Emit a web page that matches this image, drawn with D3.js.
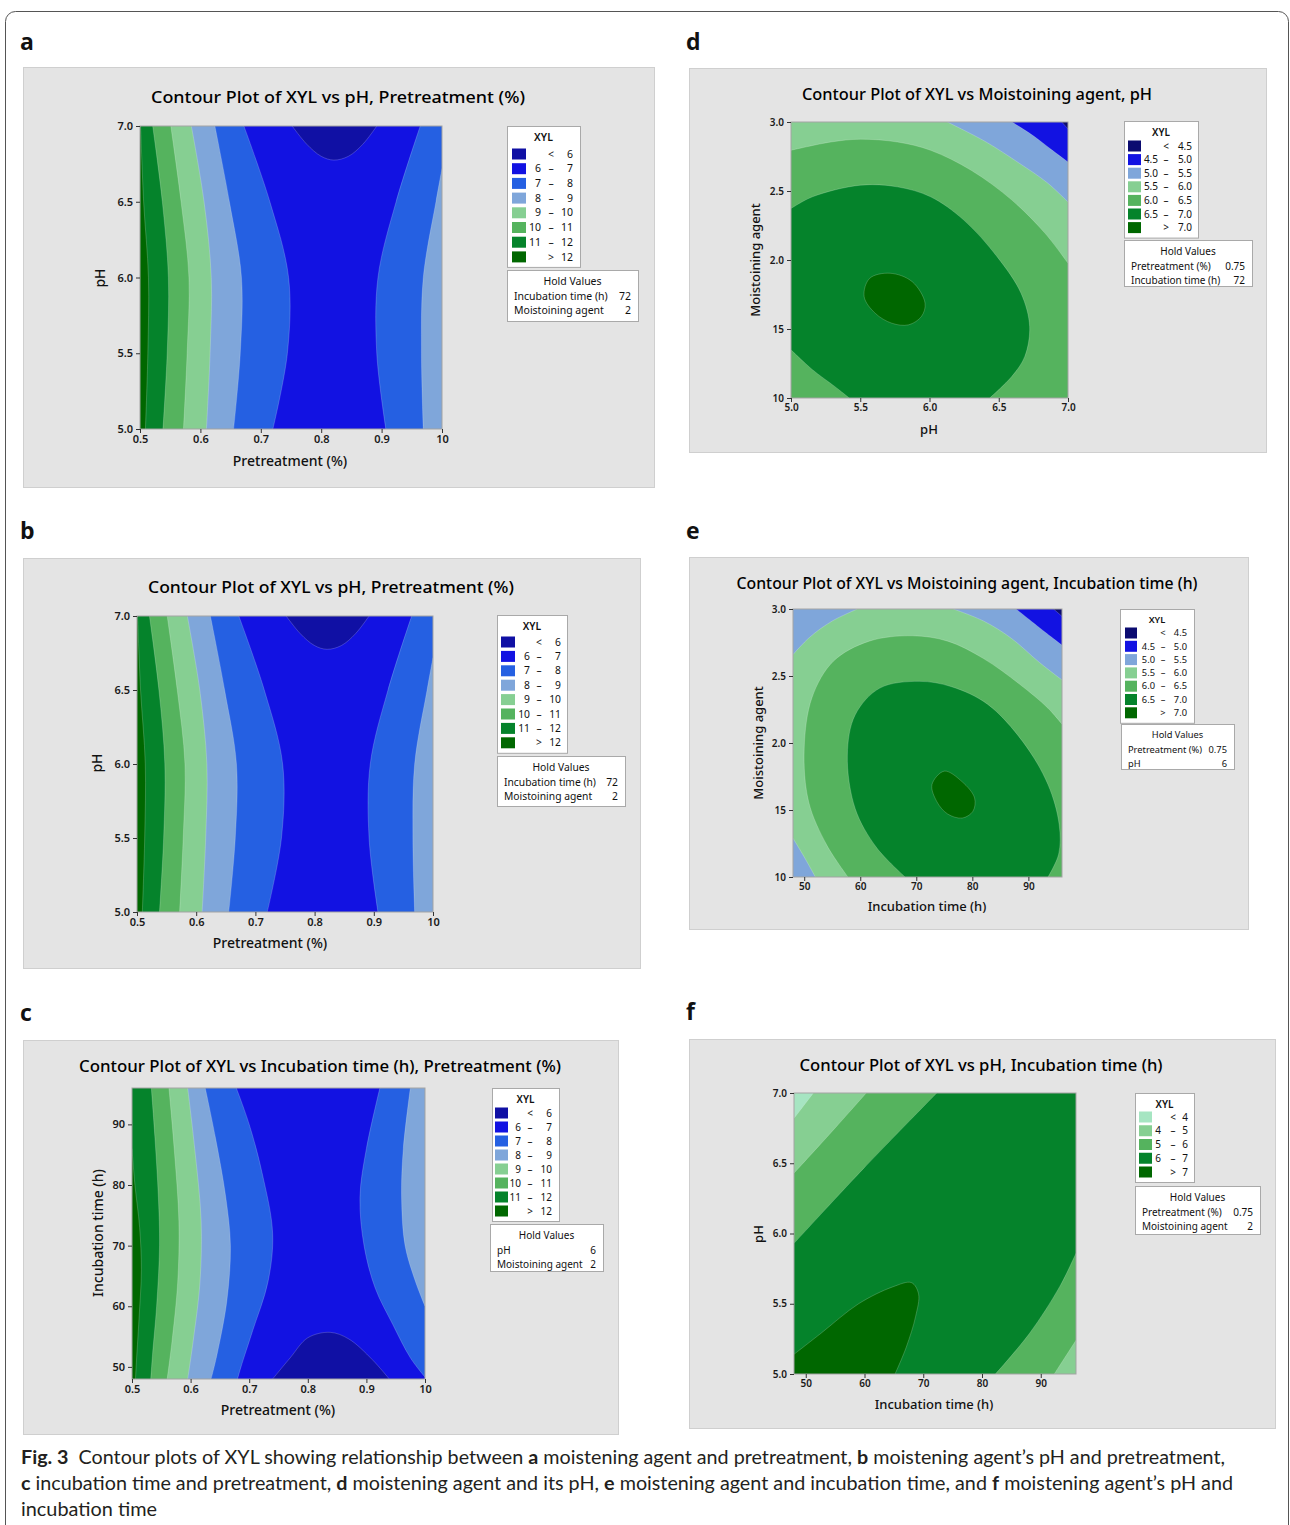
<!DOCTYPE html>
<html lang="en">
  <head>
    <meta charset="UTF-8" />
    <title>Contour plots of XYL</title>
    <script src="https://d3js.org/d3.v7.min.js"></script>
    <style>
      body {
        margin: 0;
        background: #ffffff;
      }
      svg {
        display: block;
        font-family: "Noto Sans", sans-serif;
      }
      .tick text {
        font-family: "Noto Sans", sans-serif;
        font-weight: 600;
        fill: #1a1a1a;
      }
      .tick line {
        stroke: #333;
      }
    </style>
  </head>
  <body>
    <div id="chart"></div>

    <script>
      // -----------------------------
      // 1. Data
      // -----------------------------

      // tick values and their printed labels
      const pretreatTicks = [0.5, 0.6, 0.7, 0.8, 0.9, 1.0];
      const pretreatLabels = ["0.5", "0.6", "0.7", "0.8", "0.9", "10"];
      const phTicks = [5.0, 5.5, 6.0, 6.5, 7.0];
      const phLabels = ["5.0", "5.5", "6.0", "6.5", "7.0"];
      const timeTicks = [50, 60, 70, 80, 90];
      const timeLabels = ["50", "60", "70", "80", "90"];
      const moistTicks = [1.0, 1.5, 2.0, 2.5, 3.0];
      const moistLabels = ["10", "15", "2.0", "2.5", "3.0"];

      // contour breaks (legend) and band colours, low -> high
      const preBreaks = ["6", "7", "8", "9", "10", "11", "12"];
      const preColors = ["#1010a4", "#1212e2", "#2560e2", "#7fa6da", "#86cf92", "#55b35e", "#05832b", "#006700"];
      const moistBreaks = ["4.5", "5.0", "5.5", "6.0", "6.5", "7.0"];
      const moistColors = ["#0b0b70", "#1212e2", "#7fa6da", "#86cf92", "#55b35e", "#05832b", "#006700"];
      const phTimeBreaks = ["4", "5", "6", "7"];
      const phTimeColors = ["#a6e5c2", "#86cf92", "#55b35e", "#05832b", "#006700"];

      // hold values
      const holdAB = [["Incubation time (h)", "72"], ["Moistoining agent", "2"]];
      const holdC = [["pH", "6"], ["Moistoining agent", "2"]];
      const holdD = [["Pretreatment (%)", "0.75"], ["Incubation time (h)", "72"]];
      const holdE = [["Pretreatment (%)", "0.75"], ["pH", "6"]];
      const holdF = [["Pretreatment (%)", "0.75"], ["Moistoining agent", "2"]];

      // contour lines, [x, y] in data units
      // a, b: Pretreatment (x) vs pH (y)
      const prePh12 = [[0.501, 7.0], [0.506, 6.5], [0.514, 6.0], [0.513, 5.5], [0.509, 5.0]];
      const prePh11 = [[0.521, 7.0], [0.537, 6.5], [0.547, 6.0], [0.545, 5.5], [0.538, 5.0]];
      const prePh10 = [[0.551, 7.0], [0.568, 6.5], [0.581, 6.0], [0.578, 5.5], [0.572, 5.0]];
      const prePh9 = [[0.585, 7.0], [0.606, 6.5], [0.618, 6.0], [0.616, 5.5], [0.61, 5.0]];
      const prePh8 = [[0.624, 7.0], [0.648, 6.5], [0.668, 6.0], [0.666, 5.5], [0.655, 5.0]];
      const prePh7 = [[0.672, 7.0], [0.715, 6.5], [0.746, 6.0], [0.744, 5.5], [0.72, 5.0]];
      const prePh6 = [[0.752, 7.0], [0.776, 6.88], [0.8, 6.8], [0.821, 6.775], [0.845, 6.8], [0.869, 6.88], [0.892, 7.0]];
      const prePh7r = [[0.964, 7.0], [0.924, 6.5], [0.894, 6.0], [0.892, 5.5], [0.907, 5.0]];
      const prePh8r = [[1.0, 6.72], [0.99, 6.5], [0.969, 6.0], [0.966, 5.5], [0.969, 5.0]];

      // c: Pretreatment (x) vs Incubation time (y)
      const preTime12 = [[0.5, 86], [0.505, 80], [0.513, 73], [0.516, 66], [0.512, 58], [0.507, 50], [0.506, 48]];
      const preTime11 = [[0.533, 96], [0.539, 88], [0.545, 78], [0.547, 70], [0.542, 60], [0.535, 52], [0.532, 48]];
      const preTime10 = [[0.563, 96], [0.572, 86], [0.58, 74], [0.578, 64], [0.568, 54], [0.56, 48]];
      const preTime9 = [[0.595, 96], [0.607, 86], [0.618, 74], [0.616, 64], [0.604, 54], [0.595, 48]];
      const preTime8 = [[0.625, 96], [0.642, 88], [0.66, 78], [0.668, 70], [0.662, 61], [0.645, 52], [0.635, 48]];
      const preTime7 = [[0.678, 96], [0.7, 90], [0.722, 82], [0.74, 72], [0.732, 64], [0.706, 56], [0.686, 50], [0.68, 48]];
      const preTime6 = [[0.74, 48], [0.77, 51.5], [0.8, 54.8], [0.838, 55.7], [0.87, 54.6], [0.91, 51.2], [0.939, 48]];
      const preTime7r = [[0.923, 96], [0.9, 86], [0.889, 78], [0.896, 70], [0.915, 63], [0.945, 57], [0.975, 51.5], [1.0, 48.3]];
      const preTime8r = [[0.975, 96], [0.963, 86], [0.96, 78], [0.966, 70], [0.984, 64], [1.0, 60]];

      // d: pH (x) vs Moistoining agent (y)
      const phMoist60 = [[5.0, 2.795], [5.288, 2.855], [5.501, 2.875], [5.768, 2.855], [6.008, 2.795], [6.301, 2.65], [6.595, 2.434], [6.835, 2.193], [7.0, 1.976]];
      const phMoist65 = [[5.0, 2.373], [5.155, 2.458], [5.501, 2.542], [5.768, 2.53], [6.008, 2.458], [6.248, 2.289], [6.488, 2.024], [6.661, 1.759], [6.723, 1.518], [6.688, 1.301], [6.595, 1.157], [6.435, 1.0]];
      const phMoist65b = [[5.0, 1.349], [5.155, 1.205], [5.315, 1.084], [5.421, 1.0]];
      const phMoist70 = [[5.568, 1.867], [5.715, 1.904], [5.875, 1.843], [5.968, 1.687], [5.941, 1.59], [5.848, 1.53], [5.728, 1.542], [5.608, 1.614], [5.528, 1.735]];
      const phMoist55 = [[6.128, 3.0], [6.4, 2.86], [6.65, 2.7], [6.85, 2.56], [7.0, 2.42]];
      const phMoist50 = [[6.595, 3.0], [6.75, 2.9], [6.88, 2.8], [7.0, 2.71]];
      const phMoist45 = [[6.955, 3.0], [7.0, 2.95]];

      // e: Incubation time (x) vs Moistoining agent (y)
      const timeMoist55a = [[48, 2.66], [51, 2.79], [55, 2.91], [59.5, 3.0]];
      const timeMoist55b = [[48, 1.29], [50, 1.15], [52, 1.0]];
      const timeMoist55c = [[76.6, 3.0], [82, 2.91], [87, 2.78], [92, 2.6], [96, 2.47]];
      const timeMoist50 = [[87.8, 3.0], [92.9, 2.83], [96, 2.73]];
      const timeMoist45 = [[94.5, 3.0], [96, 2.945]];
      const timeMoist60 = [[57.8, 1.0], [54, 1.24], [50.8, 1.56], [50, 1.96], [51.4, 2.34], [55.2, 2.61], [61.6, 2.76], [69.3, 2.8], [75.6, 2.76], [82, 2.63], [88.4, 2.44], [93.5, 2.26], [96, 2.14]];
      const timeMoist65 = [[68, 1.0], [62.9, 1.22], [59.1, 1.51], [57.7, 1.91], [59.1, 2.21], [63.5, 2.41], [70.5, 2.46], [76.3, 2.42], [82.7, 2.29], [89, 2.01], [93.5, 1.69], [95.5, 1.39], [95.4, 1.17], [93.5, 1.0]];
      const timeMoist70 = [[72.8, 1.69], [75, 1.79], [78.2, 1.71], [80.4, 1.59], [80.1, 1.49], [78.2, 1.44], [75.6, 1.47], [73.7, 1.56]];

      // f: Incubation time (x) vs pH (y)
      const timePh7 = [[48, 5.14], [52.6, 5.29], [59, 5.5], [64.8, 5.62], [68, 5.65], [69.2, 5.57], [68.7, 5.41], [67.1, 5.19], [65.2, 5.0]];
      const timePh6a = [[48, 5.93], [60, 6.47], [72.3, 7.0]];
      const timePh5a = [[48, 6.43], [53.9, 6.7], [60.3, 7.0]];
      const timePh4 = [[48, 6.82], [51.3, 7.0]];
      const timePh6b = [[82.3, 5.0], [88.1, 5.29], [93.2, 5.62], [96, 5.86]];
      const timePh5b = [[92.3, 5.0], [96, 5.24]];

      // filled regions: contour line + plot corners that close it, band index
      const prePhRegions = [
        { line: prePh7, band: 2, corners: [[0.5, 5.0], [0.5, 7.0]] },
        { line: prePh8, band: 3, corners: [[0.5, 5.0], [0.5, 7.0]] },
        { line: prePh9, band: 4, corners: [[0.5, 5.0], [0.5, 7.0]] },
        { line: prePh10, band: 5, corners: [[0.5, 5.0], [0.5, 7.0]] },
        { line: prePh11, band: 6, corners: [[0.5, 5.0], [0.5, 7.0]] },
        { line: prePh12, band: 7, corners: [[0.5, 5.0], [0.5, 7.0]] },
        { line: prePh7r, band: 2, corners: [[1.0, 5.0], [1.0, 7.0]] },
        { line: prePh8r, band: 3, corners: [[1.0, 5.0]] },
        { line: prePh6, band: 0, corners: [] },
      ];
      const preTimeRegions = [
        { line: preTime7, band: 2, corners: [[0.5, 48], [0.5, 96]] },
        { line: preTime8, band: 3, corners: [[0.5, 48], [0.5, 96]] },
        { line: preTime9, band: 4, corners: [[0.5, 48], [0.5, 96]] },
        { line: preTime10, band: 5, corners: [[0.5, 48], [0.5, 96]] },
        { line: preTime11, band: 6, corners: [[0.5, 48], [0.5, 96]] },
        { line: preTime12, band: 7, corners: [[0.5, 48]] },
        { line: preTime7r, band: 2, corners: [[1.0, 96]] },
        { line: preTime8r, band: 3, corners: [[1.0, 96]] },
        { line: preTime6, band: 0, corners: [] },
      ];
      const phMoistRegions = [
        { line: phMoist60, band: 4, corners: [[7.0, 1.0], [5.0, 1.0]] },
        { line: phMoist65, band: 5, corners: [[5.0, 1.0]] },
        { line: phMoist65b, band: 4, corners: [[5.0, 1.0]] },
        { line: phMoist70, band: 6, loop: true },
        { line: phMoist55, band: 2, corners: [[7.0, 3.0]] },
        { line: phMoist50, band: 1, corners: [[7.0, 3.0]] },
        { line: phMoist45, band: 0, corners: [[7.0, 3.0]] },
      ];
      const timeMoistRegions = [
        { line: timeMoist60, band: 4, corners: [[96, 1.0]] },
        { line: timeMoist65, band: 5, corners: [] },
        { line: timeMoist70, band: 6, loop: true },
        { line: timeMoist55a, band: 2, corners: [[48, 3.0]] },
        { line: timeMoist55b, band: 2, corners: [[48, 1.0]] },
        { line: timeMoist55c, band: 2, corners: [[96, 3.0]] },
        { line: timeMoist50, band: 1, corners: [[96, 3.0]] },
        { line: timeMoist45, band: 0, corners: [[96, 3.0]] },
      ];
      const timePhRegions = [
        { line: timePh7, band: 4, corners: [[48, 5.0]] },
        { line: timePh6a, band: 2, corners: [[48, 7.0]] },
        { line: timePh5a, band: 1, corners: [[48, 7.0]] },
        { line: timePh4, band: 0, corners: [[48, 7.0]] },
        { line: timePh6b, band: 2, corners: [[96, 5.0]] },
        { line: timePh5b, band: 1, corners: [[96, 5.0]] },
      ];

      // -----------------------------
      // 2. Panel layout
      // -----------------------------
      const panels = [
        {
          id: "a", tag: [20, 50], box: [23, 67, 654, 487],
          title: "Contour Plot of XYL vs pH, Pretreatment (%)", titleXY: [338, 103], titleW: 374,
          plot: [140, 126, 442, 429], xDom: [0.5, 1.0], yDom: [5.0, 7.0],
          xTicks: pretreatTicks, xLabels: pretreatLabels, yTicks: phTicks, yLabels: phLabels,
          xTitle: "Pretreatment (%)", xTitleXY: [290, 466], yTitle: "pH", yTitleXY: [100, 278], axisFont: 14, tickFont: 11,
          breaks: preBreaks, colors: preColors, base: 1, regions: prePhRegions,
          legend: [507, 126, 73, 28, 14.7], cols: [5, 34, 44, 66, 14], font: 10.5,
          hold: [507, 270, 131, 51], holdRows: holdAB,
        },
        {
          id: "b", tag: [20, 539], box: [23, 558, 640, 968],
          title: "Contour Plot of XYL vs pH, Pretreatment (%)", titleXY: [331, 593], titleW: 366,
          plot: [137, 616, 433, 912], xDom: [0.5, 1.0], yDom: [5.0, 7.0],
          xTicks: pretreatTicks, xLabels: pretreatLabels, yTicks: phTicks, yLabels: phLabels,
          xTitle: "Pretreatment (%)", xTitleXY: [270, 948], yTitle: "pH", yTitleXY: [97, 763], axisFont: 14, tickFont: 11,
          breaks: preBreaks, colors: preColors, base: 1, regions: prePhRegions,
          legend: [497, 615, 70, 27, 14.4], cols: [4, 33, 42, 64, 14], font: 10.3,
          hold: [497, 756, 128, 50], holdRows: holdAB,
        },
        {
          id: "c", tag: [20, 1021], box: [23, 1040, 618, 1434],
          title: "Contour Plot of XYL vs Incubation time (h), Pretreatment (%)", titleXY: [320, 1072], titleW: 482,
          plot: [132, 1088, 425, 1379], xDom: [0.5, 1.0], yDom: [48, 96],
          xTicks: pretreatTicks, xLabels: pretreatLabels, yTicks: timeTicks, yLabels: timeLabels,
          xTitle: "Pretreatment (%)", xTitleXY: [278, 1415], yTitle: "Incubation time (h)", yTitleXY: [98, 1233], axisFont: 14, tickFont: 11,
          breaks: preBreaks, colors: preColors, base: 1, regions: preTimeRegions,
          legend: [492, 1088, 67, 25, 14], cols: [3, 29, 38, 60, 13], font: 10,
          hold: [490, 1224, 113, 47], holdRows: holdC,
        },
        {
          id: "d", tag: [686, 50], box: [689, 68, 1266, 452],
          title: "Contour Plot of XYL vs Moistoining agent, pH", titleXY: [977, 100], titleW: 350,
          plot: [791, 122, 1068, 398], xDom: [5.0, 7.0], yDom: [1.0, 3.0],
          xTicks: phTicks, xLabels: phLabels, yTicks: moistTicks, yLabels: moistLabels,
          xTitle: "pH", xTitleXY: [929, 434], yTitle: "Moistoining agent", yTitleXY: [755, 260], axisFont: 13, tickFont: 10,
          breaks: moistBreaks, colors: moistColors, base: 3, regions: phMoistRegions,
          legend: [1124, 121, 74, 25, 13.6], cols: [4, 34, 42, 68, 13], font: 10,
          hold: [1124, 240, 128, 46], holdRows: holdD,
        },
        {
          id: "e", tag: [686, 539], box: [689, 557, 1248, 929],
          title: "Contour Plot of XYL vs Moistoining agent, Incubation time (h)", titleXY: [967, 589], titleW: 461,
          plot: [793, 609, 1062, 877], xDom: [48, 96], yDom: [1.0, 3.0],
          xTicks: timeTicks, xLabels: timeLabels, yTicks: moistTicks, yLabels: moistLabels,
          xTitle: "Incubation time (h)", xTitleXY: [927, 911], yTitle: "Moistoining agent", yTitleXY: [758, 743], axisFont: 13, tickFont: 10,
          breaks: moistBreaks, colors: moistColors, base: 3, regions: timeMoistRegions,
          legend: [1120, 609, 74, 24, 13.3], cols: [5, 35, 43, 67, 12], font: 9.3,
          hold: [1121, 724, 113, 45], holdRows: holdE,
        },
        {
          id: "f", tag: [686, 1020], box: [689, 1039, 1275, 1428],
          title: "Contour Plot of XYL vs pH, Incubation time (h)", titleXY: [981, 1071], titleW: 363,
          plot: [794, 1093, 1076, 1374], xDom: [48, 96], yDom: [5.0, 7.0],
          xTicks: timeTicks, xLabels: timeLabels, yTicks: phTicks, yLabels: phLabels,
          xTitle: "Incubation time (h)", xTitleXY: [934, 1409], yTitle: "pH", yTitleXY: [758, 1234], axisFont: 13, tickFont: 10,
          breaks: phTimeBreaks, colors: phTimeColors, base: 3, regions: timePhRegions,
          legend: [1135, 1093, 59, 24, 13.75], cols: [4, 26, 38, 53, 13], font: 10,
          hold: [1135, 1186, 125, 48], holdRows: holdF,
        },
      ];

      // -----------------------------
      // 3. Drawing
      // -----------------------------
      const W = 1290, H = 1525;
      const svg = d3.select("#chart").append("svg").attr("width", W).attr("height", H);
      svg.append("rect").attr("width", W).attr("height", H).attr("fill", "#fff");

      // outer frame of the figure
      svg.append("rect")
        .attr("x", 5.5).attr("y", 11.5)
        .attr("width", 1283).attr("height", 1600)
        .attr("rx", 10)
        .attr("fill", "none").attr("stroke", "#555").attr("stroke-width", 1);

      function regionPath(r, x, y) {
        const line = d3.line()
          .x((d) => x(d[0]))
          .y((d) => y(d[1]))
          .curve(r.loop ? d3.curveCatmullRomClosed : d3.curveCatmullRom);
        let p = line(r.line);
        if (!r.loop) {
          p += (r.corners || []).map((c) => "L" + x(c[0]) + "," + y(c[1])).join("") + "Z";
        }
        return p;
      }

      function edgePath(r, x, y) {
        return d3.line()
          .x((d) => x(d[0]))
          .y((d) => y(d[1]))
          .curve(r.loop ? d3.curveCatmullRomClosed : d3.curveCatmullRom)(r.line);
      }

      function legendRows(breaks) {
        const rows = [["<", "", breaks[0]]];
        for (let i = 1; i < breaks.length; i++) rows.push([breaks[i - 1], "–", breaks[i]]);
        rows.push([">", "", breaks[breaks.length - 1]]);
        return rows;
      }

      function drawPanel(p) {
        const g = svg.append("g").attr("class", "panel-" + p.id);
        const [bx0, by0, bx1, by1] = p.box;

        // panel letter
        svg.append("text")
          .attr("x", p.tag[0]).attr("y", p.tag[1])
          .style("font-family", "'Open Sans', sans-serif")
          .style("font-size", "23px").style("font-weight", 700)
          .attr("fill", "#111")
          .text(p.id);

        // grey panel box
        g.append("rect")
          .attr("x", bx0 + 0.5).attr("y", by0 + 0.5)
          .attr("width", bx1 - bx0).attr("height", by1 - by0)
          .attr("fill", "#e4e4e4").attr("stroke", "#cfcfcf");

        g.append("text")
          .attr("x", p.titleXY[0]).attr("y", p.titleXY[1])
          .attr("text-anchor", "middle")
          .attr("textLength", p.titleW).attr("lengthAdjust", "spacingAndGlyphs")
          .style("font-size", "16.5px").style("font-weight", 500).attr("fill", "#000")
          .text(p.title);

        const [px0, py0, px1, py1] = p.plot;
        const x = d3.scaleLinear().domain(p.xDom).range([px0, px1]);
        const y = d3.scaleLinear().domain(p.yDom).range([py1, py0]);

        const clipId = "clip-" + p.id;
        svg.append("clipPath").attr("id", clipId)
          .append("rect")
          .attr("x", px0).attr("y", py0)
          .attr("width", px1 - px0).attr("height", py1 - py0);

        const area = g.append("g").attr("clip-path", `url(#${clipId})`);
        area.append("rect")
          .attr("x", px0).attr("y", py0)
          .attr("width", px1 - px0).attr("height", py1 - py0)
          .attr("fill", p.colors[p.base]);

        area.selectAll("path.fill")
          .data(p.regions)
          .join("path")
          .attr("class", "fill")
          .attr("d", (r) => regionPath(r, x, y))
          .attr("fill", (r) => p.colors[r.band]);

        // faint contour edges
        area.selectAll("path.edge")
          .data(p.regions)
          .join("path")
          .attr("class", "edge")
          .attr("d", (r) => edgePath(r, x, y))
          .attr("fill", "none")
          .attr("stroke", "rgba(255,255,255,0.28)")
          .attr("stroke-width", 0.7);

        g.append("rect")
          .attr("x", px0).attr("y", py0)
          .attr("width", px1 - px0).attr("height", py1 - py0)
          .attr("fill", "none").attr("stroke", "#a3a3a3");

        // axes
        const xAxis = g.append("g")
          .attr("transform", `translate(0,${py1})`)
          .call(d3.axisBottom(x).tickValues(p.xTicks).tickFormat((d, i) => p.xLabels[i]).tickSize(4).tickPadding(2));
        const yAxis = g.append("g")
          .attr("transform", `translate(${px0},0)`)
          .call(d3.axisLeft(y).tickValues(p.yTicks).tickFormat((d, i) => p.yLabels[i]).tickSize(4).tickPadding(3));
        [xAxis, yAxis].forEach((a) => {
          a.select(".domain").remove();
          a.selectAll(".tick text").style("font-size", p.tickFont + "px");
        });

        g.append("text")
          .attr("x", p.xTitleXY[0]).attr("y", p.xTitleXY[1])
          .attr("text-anchor", "middle")
          .style("font-size", p.axisFont + "px").style("font-weight", 500).attr("fill", "#111")
          .text(p.xTitle);
        g.append("text")
          .attr("transform", `translate(${p.yTitleXY[0]},${p.yTitleXY[1]}) rotate(-90)`)
          .attr("text-anchor", "middle").attr("dy", "0.35em")
          .style("font-size", p.axisFont + "px").style("font-weight", 500).attr("fill", "#111")
          .text(p.yTitle);

        // legend
        const [lx, ly, lw, first, step] = p.legend;
        const [sw, n1, dash, n2, swW] = p.cols;
        const fs = p.font + "px";
        const rows = legendRows(p.breaks);
        const lh = first + (rows.length - 1) * step + 10;
        const lg = g.append("g");
        lg.append("rect")
          .attr("x", lx + 0.5).attr("y", ly + 0.5)
          .attr("width", lw).attr("height", lh)
          .attr("fill", "#fff").attr("stroke", "#a9a9a9");
        lg.append("text")
          .attr("x", lx + lw / 2).attr("y", ly + 11).attr("dy", "0.35em")
          .attr("text-anchor", "middle")
          .style("font-size", fs).style("font-weight", 600).attr("fill", "#111")
          .text("XYL");
        rows.forEach((r, i) => {
          const cy = ly + first + i * step;
          lg.append("rect")
            .attr("x", lx + sw).attr("y", cy - 5.5)
            .attr("width", swW).attr("height", 11)
            .attr("fill", p.colors[i]);
          const t = lg.append("g").style("font-size", fs).attr("fill", "#111");
          if (r[1] === "") {
            t.append("text").attr("x", lx + dash).attr("y", cy).attr("dy", "0.35em")
              .attr("text-anchor", "middle").text(r[0]);
          } else {
            t.append("text").attr("x", lx + n1).attr("y", cy).attr("dy", "0.35em")
              .attr("text-anchor", "end").text(r[0]);
            t.append("text").attr("x", lx + dash).attr("y", cy).attr("dy", "0.35em")
              .attr("text-anchor", "middle").text(r[1]);
          }
          t.append("text").attr("x", lx + n2).attr("y", cy).attr("dy", "0.35em")
            .attr("text-anchor", "end").text(r[2]);
        });

        // hold values box
        const [hx, hy, hw, hh] = p.hold;
        const hg = g.append("g").style("font-size", fs).attr("fill", "#111");
        hg.append("rect")
          .attr("x", hx + 0.5).attr("y", hy + 0.5)
          .attr("width", hw).attr("height", hh)
          .attr("fill", "#fff").attr("stroke", "#a9a9a9");
        hg.append("text")
          .attr("x", hx + hw / 2).attr("y", hy + 11).attr("dy", "0.35em")
          .attr("text-anchor", "middle")
          .text("Hold Values");
        p.holdRows.forEach((r, i) => {
          const cy = hy + 26 + i * 14;
          hg.append("text").attr("x", hx + 7).attr("y", cy).attr("dy", "0.35em").text(r[0]);
          hg.append("text").attr("x", hx + hw - 7).attr("y", cy).attr("dy", "0.35em")
            .attr("text-anchor", "end").text(r[1]);
        });
      }

      panels.forEach(drawPanel);

      // -----------------------------
      // 4. Caption
      // -----------------------------
      const captionLines = [
        { y: 1464, len: 1204, parts: [["Fig. 3", true], ["  Contour plots of XYL showing relationship between ", false], ["a", true], [" moistening agent and pretreatment, ", false], ["b", true], [" moistening agent’s pH and pretreatment,", false]] },
        { y: 1490, len: 1212, parts: [["c", true], [" incubation time and pretreatment, ", false], ["d", true], [" moistening agent and its pH, ", false], ["e", true], [" moistening agent and incubation time, and ", false], ["f", true], [" moistening agent’s pH and", false]] },
        { y: 1516, len: 136, parts: [["incubation time", false]] },
      ];
      captionLines.forEach((l) => {
        const t = svg.append("text")
          .attr("x", 21).attr("y", l.y)
          .attr("textLength", l.len).attr("lengthAdjust", "spacingAndGlyphs")
          .style("font-family", "Lato, sans-serif")
          .style("font-size", "19.5px")
          .style("white-space", "pre")
          .attr("fill", "#231f20");
        l.parts.forEach((pt) => {
          t.append("tspan").style("font-weight", pt[1] ? 700 : 400).text(pt[0]);
        });
      });
    </script>
  </body>
</html>
